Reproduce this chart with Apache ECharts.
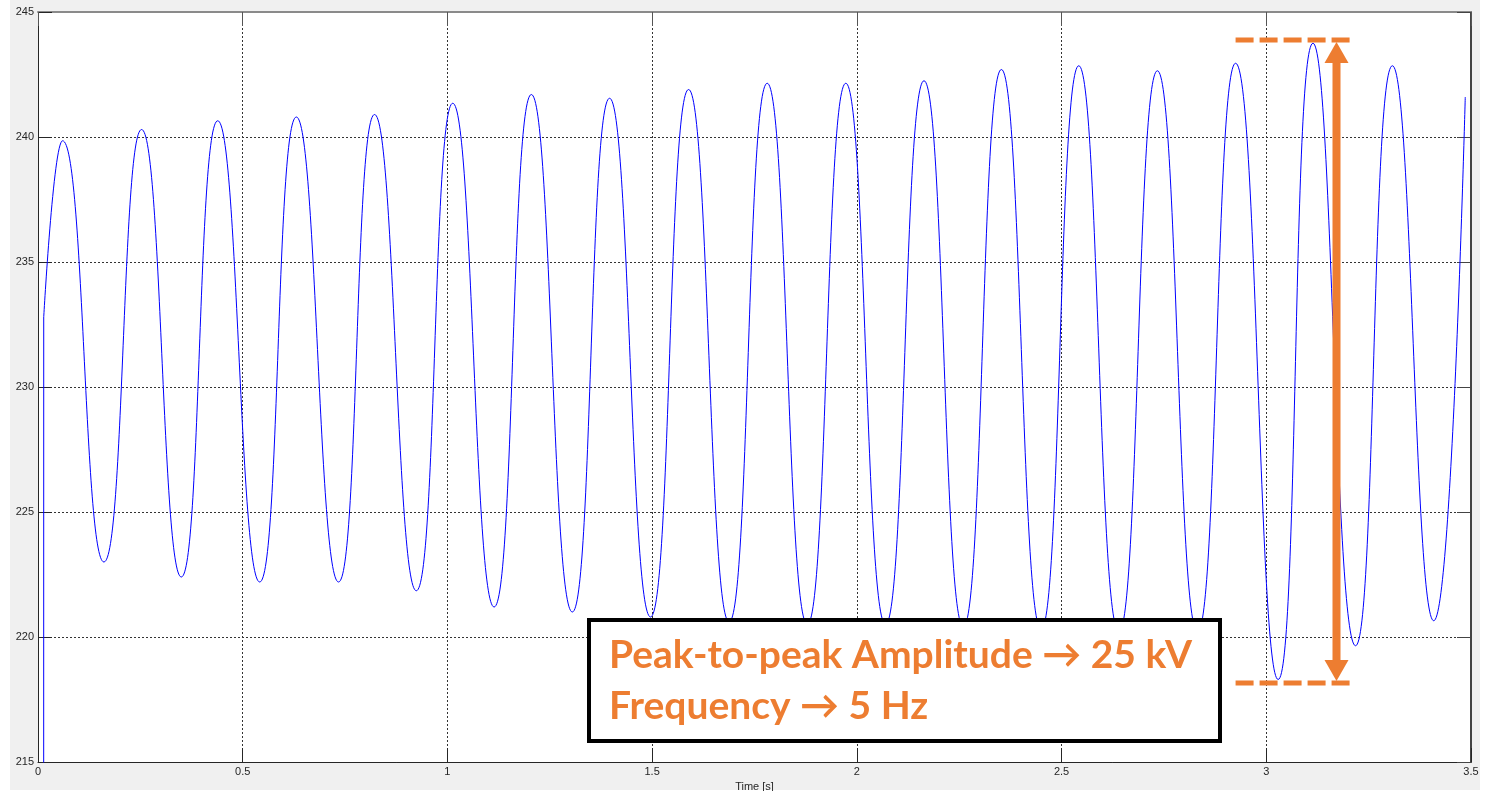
<!DOCTYPE html>
<html><head><meta charset="utf-8">
<script src="https://cdn.jsdelivr.net/npm/echarts@6/dist/echarts.min.js"></script>
<style>
html,body{margin:0;padding:0;background:#fff;overflow:hidden}
#bg{position:absolute;left:10px;top:0;width:1470px;height:790px;background:#f0f0f0}
#chart{position:absolute;left:0;top:0;width:1489px;height:791px}
</style></head>
<body><div id="bg"></div><div id="chart"></div>
<script>
// ---- data (time in s, voltage in kV) ----
const startTimes  = [0.0138, 0.0140];
const startValues = [200, 232.8];
const peakTimes   = [0.060, 0.253, 0.439, 0.631, 0.822, 1.013, 1.205, 1.396, 1.589, 1.781, 1.973, 2.164, 2.353, 2.542, 2.734, 2.925, 3.114, 3.308];
const peakValues  = [239.85, 240.3, 240.65, 240.8, 240.9, 241.35, 241.7, 241.55, 241.9, 242.15, 242.15, 242.25, 242.7, 242.85, 242.65, 242.95, 243.75, 242.85];
const troughTimes = [0.161, 0.350, 0.5415, 0.734, 0.924, 1.114, 1.305, 1.496, 1.688, 1.879, 2.070, 2.260, 2.450, 2.640, 2.832, 3.029, 3.218, 3.409];
const troughValues= [223.0, 222.4, 222.2, 222.2, 221.85, 221.2, 221.0, 220.8, 220.6, 220.5, 220.5, 220.4, 220.3, 220.2, 220.2, 218.3, 219.65, 220.65];
const endTime = 3.486, endValue = 241.6;
const xMin = 0, xMax = 3.5, xStep = 0.5;
const yMin = 215, yMax = 245, yStep = 5;
// annotation anchors (data space)
const ppTop = 243.88, ppBottom = 218.16, ppX0 = 2.925, ppX1 = 3.204, ppArrowX = 3.1715;
const noteLines = ['Peak-to-peak Amplitude \u2192 25 kV', 'Frequency \u2192 5 Hz'];

const wave = [[startTimes[1], startValues[1]]];
for (let i = 0; i < peakTimes.length; i++) {
  wave.push([peakTimes[i], peakValues[i]]);
  wave.push([troughTimes[i], troughValues[i]]);
}
wave.push([endTime, endValue]);
const startJump = startTimes.map((t, i) => [t, startValues[i]]);

const chart = echarts.init(document.getElementById('chart'), null, {renderer: 'canvas'});
const labelFont = {fontFamily: 'Liberation Sans, Arial, sans-serif', fontSize: 11, color: '#262626'};
const gridDash = {show: true, lineStyle: {color: '#333', width: 1, type: [2, 2]}};
chart.setOption({
  animation: false,
  backgroundColor: 'transparent',
  grid: {left: 38, top: 12, right: 18, bottom: 29, show: true, backgroundColor: '#fff', borderWidth: 0,
         containLabel: false, outerBoundsMode: 'none'},
  xAxis: [{
    type: 'value', min: xMin, max: xMax, interval: xStep, position: 'bottom',
    name: 'Time [s]', nameLocation: 'middle', nameGap: 18,
    nameTextStyle: labelFont,
    axisLine: {onZero: false, lineStyle: {color: '#262626', width: 1}},
    axisTick: {inside: true, length: 14, lineStyle: {color: '#262626'}},
    axisLabel: Object.assign({margin: 4}, labelFont),
    splitLine: gridDash
  }, {
    type: 'value', min: xMin, max: xMax, interval: xStep, position: 'top',
    axisLine: {onZero: false, lineStyle: {color: '#8a8a8a', width: 2}},
    axisTick: {inside: true, length: 14, lineStyle: {color: '#555'}},
    axisLabel: {show: false}, splitLine: {show: false}
  }],
  yAxis: [{
    type: 'value', min: yMin, max: yMax, interval: yStep, position: 'left',
    axisLine: {show: true, onZero: false, lineStyle: {color: '#262626', width: 1}},
    axisTick: {show: true, inside: true, length: 14, lineStyle: {color: '#262626'}},
    axisLabel: Object.assign({margin: 4}, labelFont),
    splitLine: gridDash
  }, {
    type: 'value', min: yMin, max: yMax, interval: yStep, position: 'right',
    axisLine: {show: true, onZero: false, lineStyle: {color: '#444', width: 2}},
    axisTick: {show: true, inside: true, length: 14, lineStyle: {color: '#444'}},
    axisLabel: {show: false}, splitLine: {show: false}
  }],
  series: [{
    type: 'line', data: startJump, xAxisIndex: 0, yAxisIndex: 0,
    showSymbol: false, clip: true, lineStyle: {color: '#0000ff', width: 1}
  }, {
    type: 'line', data: wave, xAxisIndex: 0, yAxisIndex: 0, smooth: 0.5,
    showSymbol: false, clip: true, lineStyle: {color: '#0000ff', width: 1}
  }]
});

const px = (x, y) => chart.convertToPixel({xAxisIndex: 0, yAxisIndex: 0}, [x, y]);
const orange = '#ED7D31';
const tl = px(ppX0, ppTop), tr = px(ppX1, ppTop);
const bl = px(ppX0, ppBottom), br = px(ppX1, ppBottom);
const at = px(ppArrowX, ppTop), ab = px(ppArrowX, ppBottom);
const ax = at[0];
const headH = 21, headW = 12;
const noteFont = 'bold 39px Lato, "Open Sans", sans-serif';
chart.setOption({
  graphic: [
    {type: 'line', z: 100, shape: {x1: tl[0], y1: tl[1], x2: tr[0], y2: tr[1]}, style: {stroke: orange, lineWidth: 5, lineDash: [18, 6]}},
    {type: 'line', z: 100, shape: {x1: bl[0], y1: bl[1], x2: br[0], y2: br[1]}, style: {stroke: orange, lineWidth: 5, lineDash: [18, 6]}},
    {type: 'rect', z: 100, shape: {x: ax - 4, y: at[1] + headH, width: 8, height: ab[1] - at[1] - 2 * headH}, style: {fill: orange}},
    {type: 'polygon', z: 100, shape: {points: [[ax, at[1] + 2], [ax - headW, at[1] + headH + 2], [ax + headW, at[1] + headH + 2]]}, style: {fill: orange}},
    {type: 'polygon', z: 100, shape: {points: [[ax, ab[1] - 2], [ax - headW, ab[1] - headH - 2], [ax + headW, ab[1] - headH - 2]]}, style: {fill: orange}},
    {type: 'rect', z: 100, shape: {x: 589, y: 620, width: 631, height: 121}, style: {fill: '#fff', stroke: '#000', lineWidth: 4}},
    {type: 'text', z: 101, style: {text: noteLines[0], x: 609, y: 655, font: noteFont, fill: orange, verticalAlign: 'middle'}},
    {type: 'text', z: 101, style: {text: noteLines[1], x: 609, y: 706, font: noteFont, fill: orange, verticalAlign: 'middle'}}
  ]
});
</script>
</body></html>
